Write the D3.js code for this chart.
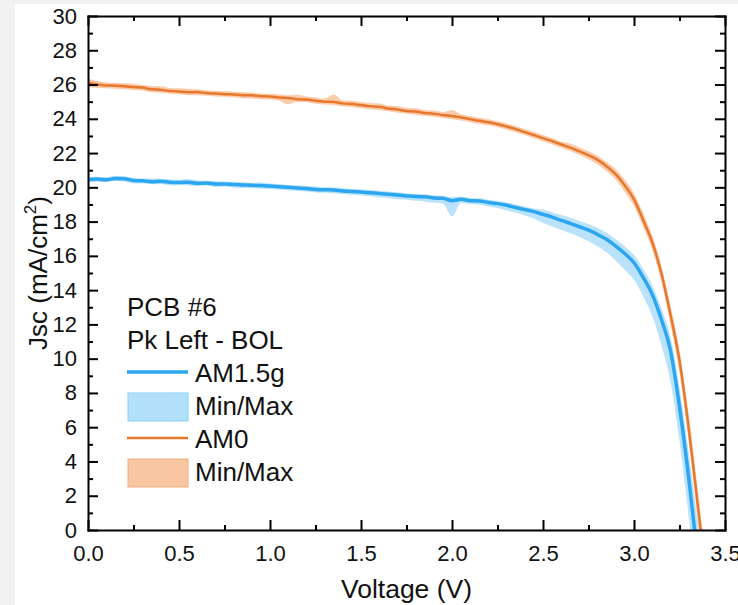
<!DOCTYPE html>
<html>
<head>
<meta charset="utf-8">
<script src="https://cdn.jsdelivr.net/npm/d3@7"></script>
<style>
	body { margin: 0; background: #f2f2f2; }
	svg { display: block; font-family: "Liberation Sans", Arial, sans-serif; }
</style>
</head>
<body>
<svg id="chart" width="738" height="605"></svg>
<script>
// Voltage (V) samples, shared by both spectra
var voltage = [0.00,0.05,0.10,0.15,0.20,0.25,0.30,0.35,0.40,0.45,
	0.50,0.55,0.60,0.65,0.70,0.75,0.80,0.85,0.90,0.95,
	1.00,1.05,1.10,1.15,1.20,1.25,1.30,1.35,1.40,1.45,
	1.50,1.55,1.60,1.65,1.70,1.75,1.80,1.85,1.90,1.95,
	2.00,2.05,2.10,2.15,2.20,2.25,2.30,2.35,2.40,2.45,
	2.50,2.55,2.60,2.65,2.70,2.75,2.80,2.85,2.90,2.95,
	3.00,3.05,3.10,3.15,3.20,3.25,3.30,3.35,3.40];

// AM1.5g Jsc (mA/cm2)
var am15Mean = [20.45,20.48,20.44,20.52,20.50,20.40,20.38,20.33,20.36,20.30,
	20.28,20.30,20.24,20.25,20.20,20.20,20.16,20.14,20.12,20.10,
	20.08,20.04,20.00,19.96,19.93,19.88,19.86,19.84,19.78,19.76,
	19.73,19.68,19.64,19.60,19.55,19.50,19.46,19.45,19.38,19.36,
	19.22,19.30,19.22,19.20,19.12,19.05,18.95,18.82,18.70,18.58,
	18.42,18.26,18.07,17.90,17.70,17.50,17.25,16.95,16.57,16.12,
	15.60,14.75,13.75,12.30,10.50,7.20,3.10,-1.60,-6.50];
var am15Max = [20.62,20.62,20.60,20.68,20.64,20.55,20.52,20.52,20.50,20.46,
	20.44,20.48,20.40,20.38,20.36,20.34,20.32,20.30,20.26,20.28,
	20.22,20.20,20.14,20.12,20.08,20.06,20.00,20.00,19.94,19.90,
	19.88,19.84,19.80,19.76,19.72,19.66,19.62,19.60,19.54,19.50,
	19.44,19.46,19.38,19.36,19.28,19.22,19.12,19.00,18.88,18.76,
	18.70,18.55,18.38,18.22,18.04,17.86,17.62,17.34,16.97,16.54,
	16.05,15.25,14.30,12.95,11.30,8.30,4.60,0.40,-4.50];
var am15Min = [20.30,20.33,20.30,20.38,20.34,20.22,20.24,20.18,20.20,20.12,
	20.14,20.10,20.08,20.10,20.02,20.05,19.98,19.96,19.95,19.92,
	19.90,19.86,19.82,19.78,19.76,19.70,19.68,19.64,19.60,19.56,
	19.52,19.48,19.40,19.36,19.30,19.28,19.22,19.18,19.10,19.05,
	18.30,19.08,19.02,18.98,18.88,18.80,18.66,18.52,18.36,18.18,
	17.92,17.72,17.52,17.32,17.10,16.85,16.55,16.20,15.72,15.17,
	14.60,13.65,12.50,10.80,8.70,5.20,0.80,-4.10,-9.00];

// AM0 Jsc (mA/cm2)
var am0Mean = [26.10,26.00,25.95,25.93,25.90,25.85,25.82,25.72,25.70,25.62,
	25.60,25.55,25.56,25.50,25.47,25.44,25.42,25.38,25.37,25.32,
	25.30,25.24,25.22,25.14,25.12,25.05,25.00,24.98,24.90,24.86,
	24.80,24.74,24.70,24.60,24.54,24.46,24.42,24.34,24.30,24.22,
	24.17,24.08,23.98,23.88,23.80,23.68,23.55,23.40,23.22,23.05,
	22.87,22.70,22.50,22.32,22.10,21.88,21.60,21.22,20.76,20.10,
	19.30,18.10,16.80,15.00,12.60,9.90,6.00,1.50,-3.20];
var am0Max = [26.35,26.20,26.12,26.10,26.08,26.04,25.98,25.92,25.90,25.80,
	25.78,25.75,25.72,25.66,25.64,25.62,25.58,25.56,25.54,25.48,
	25.46,25.42,25.38,25.40,25.30,25.24,25.18,25.42,25.08,25.06,
	24.98,24.92,24.90,24.78,24.74,24.64,24.62,24.52,24.48,24.40,
	24.52,24.26,24.16,24.06,23.98,23.86,23.74,23.58,23.40,23.24,
	23.06,22.88,22.68,22.56,22.34,22.10,21.84,21.48,21.06,20.44,
	19.66,18.50,17.20,15.45,13.10,10.50,6.80,2.40,-2.20];
var am0Min = [25.85,25.80,25.78,25.76,25.72,25.68,25.64,25.55,25.52,25.46,
	25.44,25.38,25.38,25.34,25.30,25.28,25.26,25.20,25.18,25.14,
	25.12,25.06,24.85,24.98,24.96,24.88,24.84,24.80,24.72,24.68,
	24.62,24.56,24.50,24.44,24.36,24.30,24.24,24.16,24.12,24.04,
	23.98,23.90,23.80,23.70,23.62,23.50,23.36,23.22,23.04,22.86,
	22.68,22.50,22.30,22.12,21.88,21.64,21.34,20.94,20.44,19.72,
	18.90,17.70,16.35,14.50,12.00,9.20,5.20,0.60,-4.20];

var xMajor = [0, 0.5, 1.0, 1.5, 2.0, 2.5, 3.0, 3.5];
var xMinor = [0.25, 0.75, 1.25, 1.75, 2.25, 2.75, 3.25];
var yMajor = [0,2,4,6,8,10,12,14,16,18,20,22,24,26,28,30];
var yMinor = [1,3,5,7,9,11,13,15,17,19,21,23,25,27,29];

var legendTitles = ["PCB #6", "Pk Left - BOL"];
var legendItems = [
	{label: "AM1.5g", type: "line", series: "am15"},
	{label: "Min/Max", type: "band", series: "am15"},
	{label: "AM0", type: "line", series: "am0"},
	{label: "Min/Max", type: "band", series: "am0"}
];

var colors = {
	am15: {line: "#2ca6f0", band: "#b2e0fb", bandStroke: "#8ccff6", width: 3.5},
	am0: {line: "#e8772c", band: "#f9c6a3", bandStroke: "#f3ad80", width: 2.5}
};

var svg = d3.select("#chart");
var margin = {top: 16, right: 13, bottom: 75, left: 88},
	width = +svg.attr("width") - margin.left - margin.right,
	height = +svg.attr("height") - margin.top - margin.bottom;

// white sheet over the grey window edge
svg.append("rect")
	.attr("x", 15).attr("y", 4)
	.attr("width", 738 - 15).attr("height", 605 - 4)
	.attr("fill", "#fff");

function translate(x, y)
{
	return "translate(" + x + "," + y + ")";
}

var g = svg.append("g").attr("transform", translate(margin.left, margin.top));

var x = d3.scaleLinear().domain([0, 3.5]).range([0, width]);
var y = d3.scaleLinear().domain([0, 30]).range([height, 0]);

g.append("clipPath").attr("id", "plotClip")
	.append("rect").attr("width", width).attr("height", height);

function seriesRows(mean, lo, hi)
{
	return voltage.map(function(v, i){ return {v: v, mean: mean[i], lo: lo[i], hi: hi[i]}; });
}

var series = [
	{key: "am15", rows: seriesRows(am15Mean, am15Min, am15Max)},
	{key: "am0", rows: seriesRows(am0Mean, am0Min, am0Max)}
];

var band = d3.area()
	.curve(d3.curveMonotoneX)
	.x(function(d){ return x(d.v); })
	.y0(function(d){ return y(d.lo); })
	.y1(function(d){ return y(d.hi); });

var line = d3.line()
	.curve(d3.curveMonotoneX)
	.x(function(d){ return x(d.v); })
	.y(function(d){ return y(d.mean); });

var plot = g.append("g").attr("clip-path", "url(#plotClip)");

series.forEach(function(s){
	plot.append("path")
		.datum(s.rows)
		.attr("d", band)
		.attr("fill", colors[s.key].band)
		.attr("fill-opacity", 0.9);
	plot.append("path")
		.datum(s.rows)
		.attr("d", line)
		.attr("fill", "none")
		.attr("stroke", colors[s.key].line)
		.attr("stroke-width", colors[s.key].width)
		.attr("stroke-linejoin", "round");
});

// axes: ticks point inwards on all four sides
var axes = g.append("g");

function addAxis(axis, dx, dy, keepDomain)
{
	var a = axes.append("g")
		.attr("transform", translate(dx, dy))
		.call(axis)
		.attr("font-size", 22)
		.attr("font-family", "'Liberation Sans', Arial, sans-serif");
	if(!keepDomain) a.select(".domain").remove();
	a.selectAll("path, line").attr("stroke", "#000").attr("stroke-width", 2);
	a.selectAll("text").attr("fill", "#111");
	return a;
}

addAxis(d3.axisBottom(x).tickValues(xMajor).tickSize(-10).tickSizeOuter(0).tickPadding(15)
	.tickFormat(d3.format(".1f")), 0, height, true);
addAxis(d3.axisBottom(x).tickValues(xMinor).tickSize(-5).tickFormat(""), 0, height, false);

addAxis(d3.axisTop(x).tickValues(xMajor).tickSize(-10).tickSizeOuter(0).tickFormat(""), 0, 0, true);
addAxis(d3.axisTop(x).tickValues(xMinor).tickSize(-5).tickFormat(""), 0, 0, false);

addAxis(d3.axisLeft(y).tickValues(yMajor).tickSize(-10).tickSizeOuter(0).tickPadding(11), 0, 0, true);
addAxis(d3.axisLeft(y).tickValues(yMinor).tickSize(-5).tickFormat(""), 0, 0, false);

addAxis(d3.axisRight(y).tickValues(yMajor).tickSize(-10).tickSizeOuter(0).tickFormat(""), width, 0, true);
addAxis(d3.axisRight(y).tickValues(yMinor).tickSize(-5).tickFormat(""), width, 0, false);

axes.selectAll(".domain").attr("stroke-linecap", "square");

// axis titles
svg.append("text")
	.attr("x", margin.left + width / 2)
	.attr("y", 598)
	.attr("text-anchor", "middle")
	.style("font-size", "26.5px")
	.attr("fill", "#111")
	.text("Voltage (V)");

var yTitle = svg.append("text")
	.attr("transform", translate(47, margin.top + height / 2) + " rotate(-90)")
	.attr("text-anchor", "middle")
	.style("font-size", "26px")
	.attr("fill", "#111");
yTitle.append("tspan").text("Jsc (mA/cm");
yTitle.append("tspan").style("font-size", "17px").attr("dy", -11).text("2");
yTitle.append("tspan").attr("dy", 11).text(")");

// legend
var legend = svg.append("g")
	.style("font-size", "26px")
	.attr("fill", "#111");

legend.selectAll(".title")
	.data(legendTitles)
	.enter().append("text")
		.attr("class", "title")
		.attr("x", 127)
		.attr("y", function(d, i){ return 316 + i * 33; })
		.text(function(d){ return d; });

var items = legend.selectAll(".item")
	.data(legendItems)
	.enter().append("g")
		.attr("class", "item")
		.attr("transform", function(d, i){ return translate(127, 382 + i * 33); });

items.filter(function(d){ return d.type === "line"; })
	.append("line")
		.attr("x1", 0).attr("x2", 61)
		.attr("y1", -10).attr("y2", -10)
		.attr("stroke", function(d){ return colors[d.series].line; })
		.attr("stroke-width", function(d){ return d.series === "am15" ? 3.5 : 2.5; });

items.filter(function(d){ return d.type === "band"; })
	.append("rect")
		.attr("x", 1).attr("y", -22)
		.attr("width", 60).attr("height", 28)
		.attr("fill", function(d){ return colors[d.series].band; })
		.attr("stroke", function(d){ return colors[d.series].bandStroke; })
		.attr("stroke-width", 1);

items.append("text")
	.attr("x", 68)
	.text(function(d){ return d.label; });
</script>
</body>
</html>
